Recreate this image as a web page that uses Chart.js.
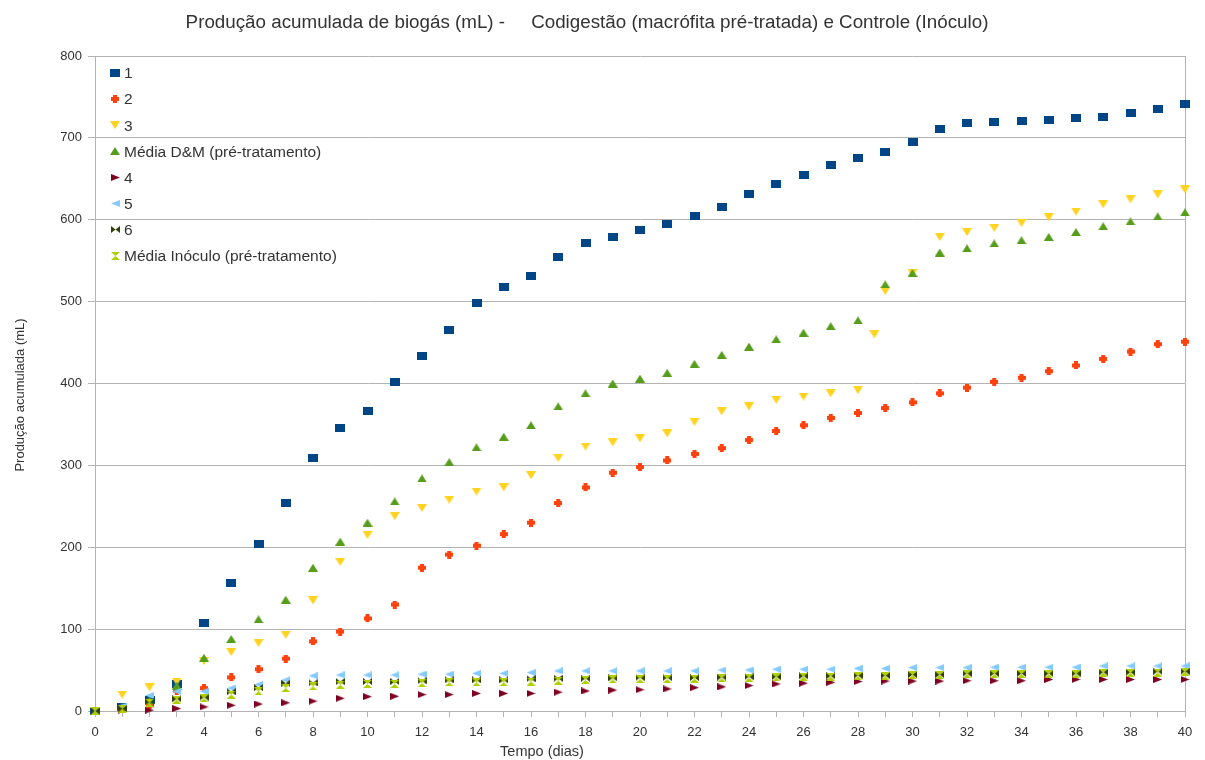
<!DOCTYPE html>
<html>
<head>
<meta charset="utf-8">
<title>Produção acumulada de biogás</title>
<script src="https://cdn.jsdelivr.net/npm/chart.js@4.4.1/dist/chart.umd.min.js"></script>
<style>
  html, body { margin: 0; padding: 0; background: #ffffff; }
  canvas { display: block; }
</style>
</head>
<body>
<canvas id="grafico" width="1205" height="760"></canvas>
<script>
// Tempo (dias)
const dias = [0,1,2,3,4,5,6,7,8,9,10,11,12,13,14,15,16,17,18,19,20,21,22,23,24,25,26,27,28,29,30,31,32,33,34,35,36,37,38,39,40];
// a série 3 tem uma leitura extra entre os dias 28 e 29
const dias3 = [0,1,2,3,4,5,6,7,8,9,10,11,12,13,14,15,16,17,18,19,20,21,22,23,24,25,26,27,28,28.6,29,30,31,32,33,34,35,36,37,38,39,40];

// Codigestão (macrófita pré-tratada), mL acumulados
const serie1 = [0,5,14,33,108,156,204,254,309,346,366,402,433,465,498,518,531,554,571,579,587,595,605,615,632,644,655,667,676,683,695,711,718,720,721,722,724,726,730,735,741];
const serie2 = [0,3,7,25,28,41,51,64,85,97,113,130,175,191,202,216,230,254,273,291,298,306,314,321,331,342,349,358,364,370,377,388,395,402,407,415,422,430,439,448,451];
const serie3 = [0,20,29,36,61,72,83,93,135,182,215,238,248,258,268,273,288,309,323,328,333,339,353,366,372,380,384,388,392,460,513,535,579,585,590,596,603,610,619,625,631,637];
const mediaDM = [0,5,13,31,65,88,112,136,175,207,230,256,284,304,322,335,349,372,388,400,406,413,424,435,445,454,462,470,477,521,535,560,565,571,575,579,585,592,598,604,609];

// Controle (inóculo), mL acumulados
const serie4 = [0,1,1,3,5,7,8.5,10,12,15.5,17.5,18,20,20,21.5,21.5,21.5,23,24.5,25.5,26,27,28.5,29.5,31,33,34,35,36,36.5,36.5,36.5,37,37,37,38.5,38.5,38.5,38.5,38.5,38.5];
const serie5 = [0,6,19,24,24,28,32.5,38,43,44,44,44,45,45,46,46,47,49,49,49,49,49,49,50,50,51,51,51,52,52,53,53,53,53.5,53.5,53.5,53.5,55,55,55,55];
const serie6 = [0,3,12,15,17,23.5,28.5,34,34.5,36,36,36,37,38,38,38,39.5,40,40,40.5,41,41,41,41.5,42,42,43,43,43.5,43.5,44.5,44.5,46,46,46,46,46,47.5,47.5,48.5,48.5];
const mediaInoculo = [0,3,10,14,15.5,20,24,28,30,32,33,33,34,35,35,35,36,37,38,38.5,39,39,39.5,40,40.5,41,42,42,42.5,42.5,44,44,45,45,45,45,45,47,46.5,47,48];

const nomes = ['1', '2', '3', 'Média D&M (pré-tratamento)', '4', '5', '6', 'Média Inóculo (pré-tratamento)'];
const cores = ['#004586', '#ff420e', '#ffd320', '#579d1c', '#7e0021', '#83caff', '#314004', '#aecf00'];

const tituloTexto = 'Produção acumulada de biogás (mL) -     Codigestão (macrófita pré-tratada) e Controle (Inóculo)';
const tituloY = 'Produção acumulada (mL)';
const tituloX = 'Tempo (dias)';

const FONTE = '"Liberation Sans", Arial, sans-serif';
const COR_TEXTO = '#333333';
const COR_GRADE = '#b3b3b3';

// Símbolos desenhados num pequeno canvas e usados como pointStyle
function simbolo(tipo, cor, w, h) {
  const c = document.createElement('canvas');
  c.width = w; c.height = h;
  const g = c.getContext('2d');
  g.fillStyle = cor;
  g.beginPath();
  switch (tipo) {
    case 'quadrado':
      g.rect(0, 0, w, h); break;
    case 'cruz':
      g.rect(w * 0.25, 0, w * 0.5, h);
      g.rect(0, h * 0.25, w, h * 0.5); break;
    case 'baixo':
      g.moveTo(0, 0); g.lineTo(w, 0); g.lineTo(w / 2, h); g.closePath(); break;
    case 'cima':
      g.moveTo(0, h); g.lineTo(w, h); g.lineTo(w / 2, 0); g.closePath(); break;
    case 'direita':
      g.moveTo(0, 0); g.lineTo(w, h / 2); g.lineTo(0, h); g.closePath(); break;
    case 'esquerda':
      g.moveTo(w, 0); g.lineTo(0, h / 2); g.lineTo(w, h); g.closePath(); break;
    case 'gravata':
      g.moveTo(0, 0); g.lineTo(w / 2, h / 2); g.lineTo(0, h); g.closePath();
      g.moveTo(w, 0); g.lineTo(w / 2, h / 2); g.lineTo(w, h); g.closePath(); break;
    case 'ampulheta':
      g.moveTo(0, 0); g.lineTo(w, 0); g.lineTo(w / 2, h / 2); g.closePath();
      g.moveTo(0, h); g.lineTo(w, h); g.lineTo(w / 2, h / 2); g.closePath(); break;
  }
  g.fill();
  return c;
}

const simbolos = [
  simbolo('quadrado', cores[0], 10, 8),
  simbolo('cruz', cores[1], 8, 8),
  simbolo('baixo', cores[2], 10, 8),
  simbolo('cima', cores[3], 10, 8),
  simbolo('direita', cores[4], 9, 7),
  simbolo('esquerda', cores[5], 9, 7),
  simbolo('gravata', cores[6], 9, 7),
  simbolo('ampulheta', cores[7], 9, 8)
];

function pontos(xs, ys) {
  return xs.map((x, i) => ({ x: x, y: ys[i] }));
}

const valores = [
  pontos(dias, serie1), pontos(dias, serie2), pontos(dias3, serie3), pontos(dias, mediaDM),
  pontos(dias, serie4), pontos(dias, serie5), pontos(dias, serie6), pontos(dias, mediaInoculo)
];

// as séries seguintes ficam por cima das anteriores
const datasets = valores.map((d, i) => ({
  label: nomes[i],
  data: d,
  pointStyle: simbolos[i],
  pointRadius: 4,
  backgroundColor: cores[i],
  borderColor: cores[i],
  order: valores.length - i,
  clip: false
}));

// legenda dentro da área do gráfico, no canto superior esquerdo
const legendaInterna = {
  id: 'legendaInterna',
  afterDraw(chart) {
    const { ctx, chartArea } = chart;
    ctx.save();
    ctx.font = '15.5px ' + FONTE;
    ctx.fillStyle = COR_TEXTO;
    ctx.textBaseline = 'middle';
    ctx.textAlign = 'left';
    chart.data.datasets.forEach((ds, i) => {
      const x = chartArea.left + 20;
      const y = chartArea.top + 17 + i * 26.14;
      const img = ds.pointStyle;
      ctx.drawImage(img, Math.round(x - img.width / 2), Math.round(y - img.height / 2));
      ctx.fillText(ds.label, x + 9, y + 1);
    });
    ctx.restore();
  }
};

// título geral e títulos dos eixos
const titulos = {
  id: 'titulos',
  afterDraw(chart) {
    const { ctx, chartArea } = chart;
    ctx.save();
    ctx.fillStyle = COR_TEXTO;
    ctx.textAlign = 'center';
    ctx.textBaseline = 'middle';
    ctx.font = '18.8px ' + FONTE;
    ctx.fillText(tituloTexto, 587, 23);
    ctx.font = '14.5px ' + FONTE;
    ctx.fillText(tituloX, chartArea.left + 447, chartArea.bottom + 41);
    ctx.translate(20, chartArea.top + 339);
    ctx.rotate(-Math.PI / 2);
    ctx.font = '13px ' + FONTE;
    ctx.fillText(tituloY, 0, 0);
    ctx.restore();
  }
};

new Chart(document.getElementById('grafico'), {
  type: 'scatter',
  data: { datasets: datasets },
  plugins: [legendaInterna, titulos],
  options: {
    responsive: false,
    animation: false,
    events: [],
    layout: { padding: { top: 56, right: 20, bottom: 0, left: 0 } },
    plugins: {
      legend: { display: false },
      title: { display: false },
      tooltip: { enabled: false }
    },
    scales: {
      x: {
        type: 'linear',
        min: 0,
        max: 40,
        afterFit(scale) { scale.height = 49; },
        ticks: {
          stepSize: 1,
          autoSkip: false,
          maxRotation: 0,
          padding: 8,
          color: COR_TEXTO,
          font: { family: FONTE, size: 13 },
          callback: (v) => (v % 2 === 0 ? String(v) : '')
        },
        grid: {
          drawOnChartArea: true,
          color: (c) => (c.tick && c.tick.value === 40 ? COR_GRADE : 'rgba(0,0,0,0)'),
          tickColor: COR_GRADE,
          tickLength: 6,
          lineWidth: 1
        },
        border: { display: true, color: COR_GRADE, width: 1 }
      },
      y: {
        min: 0,
        max: 800,
        afterFit(scale) { scale.width = 95; },
        ticks: {
          stepSize: 100,
          padding: 6,
          color: COR_TEXTO,
          font: { family: FONTE, size: 13 }
        },
        grid: {
          color: COR_GRADE,
          tickColor: COR_GRADE,
          tickLength: 7,
          lineWidth: 1
        },
        border: { display: true, color: COR_GRADE, width: 1 }
      }
    }
  }
});
</script>
</body>
</html>
